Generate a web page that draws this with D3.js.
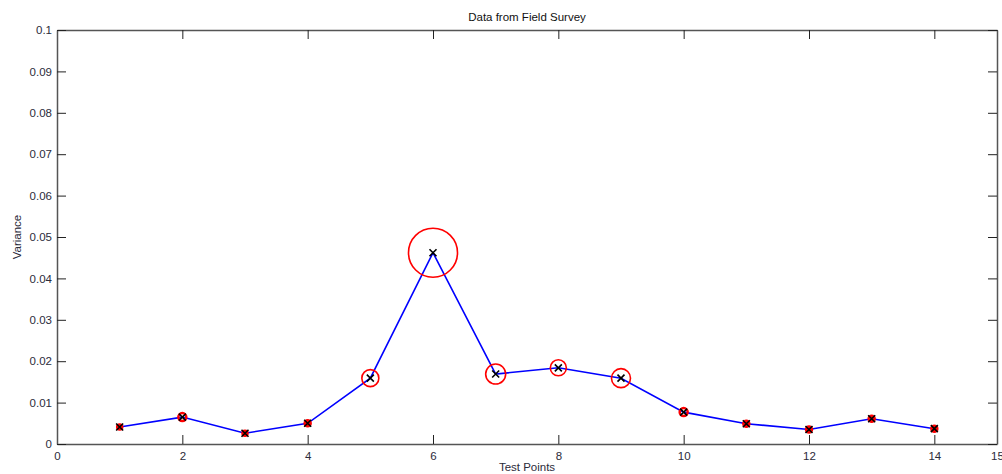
<!DOCTYPE html>
<html>
<head>
<meta charset="utf-8">
<script src="https://cdn.jsdelivr.net/npm/d3@7"></script>
<style>
  html, body { margin: 0; padding: 0; background: #fff; }
  svg { display: block; font-family: "Liberation Sans", Arial, sans-serif; }
</style>
</head>
<body>
<svg id="chart" width="1002" height="474"></svg>
<script>
const testPoints = [1, 2, 3, 4, 5, 6, 7, 8, 9, 10, 11, 12, 13, 14];
const variance = [0.0041, 0.0065, 0.0026, 0.0050, 0.0159, 0.0462, 0.0169, 0.0184, 0.0159, 0.0077, 0.0049, 0.0035, 0.0061, 0.0037];
const circleSize = [2.5, 4, 2.5, 3, 8.5, 24.5, 10, 8, 9.5, 4, 3, 3, 3, 3];
const xTicks = [0, 2, 4, 6, 8, 10, 12, 14, 15];
const yTicks = [0, 0.01, 0.02, 0.03, 0.04, 0.05, 0.06, 0.07, 0.08, 0.09, 0.1];
const yTickLabels = ["0", "0.01", "0.02", "0.03", "0.04", "0.05", "0.06", "0.07", "0.08", "0.09", "0.1"];

const svg = d3.select("#chart");
const L = 57, R = 997, T = 30, B = 444;
const x = d3.scaleLinear().domain([0, 15]).range([L, R]);
const y = d3.scaleLinear().domain([0, 0.1]).range([B, T]);
const axisColor = "#555";
const textColor = "#2b2b3a";
const tickLen = 9;

// Axes with inward ticks
const gx = svg.append("g").attr("transform", `translate(0,${B})`)
  .call(d3.axisBottom(x).tickValues(xTicks).tickFormat(d3.format("d")).tickSizeInner(-tickLen).tickSizeOuter(0).tickPadding(6));
const gxTop = svg.append("g").attr("transform", `translate(0,${T})`)
  .call(d3.axisTop(x).tickValues(xTicks).tickFormat("").tickSizeInner(-tickLen).tickSizeOuter(0));
const gy = svg.append("g").attr("transform", `translate(${L},0)`)
  .call(d3.axisLeft(y).tickValues(yTicks).tickFormat((d, i) => yTickLabels[i]).tickSizeInner(-tickLen).tickSizeOuter(0).tickPadding(5));
const gyR = svg.append("g").attr("transform", `translate(${R},0)`)
  .call(d3.axisRight(y).tickValues(yTicks).tickFormat("").tickSizeInner(-tickLen).tickSizeOuter(0));

[gx, gxTop, gy, gyR].forEach(g => {
  g.select(".domain").attr("stroke", axisColor).attr("stroke-width", 1.5);
  g.selectAll(".tick line").attr("stroke", "#222").attr("stroke-width", 1);
  g.selectAll(".tick text").attr("fill", textColor).attr("font-size", 11.5)
    .attr("font-family", "'Liberation Sans', Arial, sans-serif");
});
gx.selectAll(".tick text").attr("dy", "0.9em");

// Line
const line = d3.line().x((d, i) => x(testPoints[i])).y(d => y(d));
svg.append("path").datum(variance)
  .attr("d", line)
  .attr("fill", "none")
  .attr("stroke", "#0000ff")
  .attr("stroke-width", 1.6);

// Red circles
svg.append("g").selectAll("circle").data(variance).join("circle")
  .attr("cx", (d, i) => x(testPoints[i]))
  .attr("cy", d => y(d))
  .attr("r", (d, i) => circleSize[i])
  .attr("fill", (d, i) => circleSize[i] <= 3 ? "#ff0000" : "none")
  .attr("stroke", "#ff0000")
  .attr("stroke-width", (d, i) => circleSize[i] <= 4 ? 2.5 : 1.6);

// Black x markers
const s = 3.5;
svg.append("g").selectAll("path").data(variance).join("path")
  .attr("d", (d, i) => {
    const cx = x(testPoints[i]), cy = y(d);
    return `M${cx - s},${cy - s}L${cx + s},${cy + s}M${cx - s},${cy + s}L${cx + s},${cy - s}`;
  })
  .attr("stroke", "#000")
  .attr("stroke-width", 1.6)
  .attr("fill", "none");

// Title and labels
svg.append("text").attr("x", (L + R) / 2).attr("y", 21)
  .attr("text-anchor", "middle").attr("font-size", 11.5).attr("fill", "#111")
  .text("Data from Field Survey");
svg.append("text").attr("x", (L + R) / 2).attr("y", 471)
  .attr("text-anchor", "middle").attr("font-size", 11.5).attr("fill", textColor)
  .text("Test Points");
svg.append("text").attr("transform", `translate(21,${(T + B) / 2}) rotate(-90)`)
  .attr("text-anchor", "middle").attr("font-size", 11.5).attr("fill", textColor)
  .text("Variance");
</script>
</body>
</html>
